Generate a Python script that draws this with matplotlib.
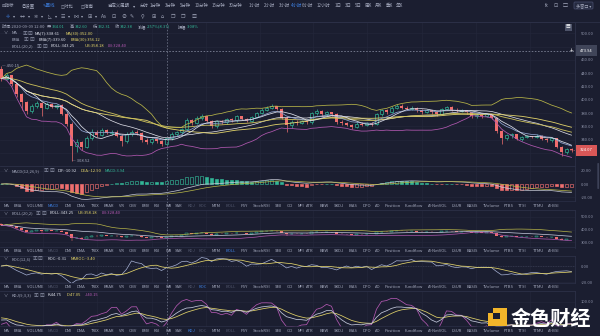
import numpy as np
import pandas as pd
import matplotlib
matplotlib.use("Agg")
import matplotlib.pyplot as plt
from matplotlib.patches import Rectangle, FancyBboxPatch
from matplotlib.ticker import FormatStrFormatter

plt.rcParams['font.family'] = ['Noto Sans CJK SC', 'DejaVu Sans']

# ETH/USDT 4h candles, open of each bar = previous close
first_open = 446.0
closes = [432, 437, 424, 408, 396, 383, 391, 395, 388, 393,
          389, 392, 379, 363, 331, 336, 329, 343, 352, 347,
          354, 350, 352, 346, 338, 348, 352, 350, 339, 336,
          341, 338, 334.01, 342.38, 349, 351, 356, 369, 365, 372,
          375, 368, 360, 368, 366, 371, 369, 375, 371, 368,
          374, 380, 385, 388, 390, 386, 373, 362, 367, 365,
          368, 366, 380, 383, 378, 381, 378, 367, 365, 362,
          359, 364, 362, 365, 363, 378, 384, 381, 388, 391,
          388, 386, 388, 384, 382, 384, 381, 379, 386, 389,
          385, 383, 384, 381, 375, 377, 376, 378, 373, 353,
          343, 347, 348, 341, 344, 345, 344, 346, 341, 339,
          342, 329, 321, 326, 324.07]
highs = [450.15, 440, 438, 426, 410, 398, 394, 398, 397, 396,
         395, 394, 393, 381, 366, 341, 338, 346, 356, 355,
         357, 356, 355, 354, 348, 351, 355, 354, 351, 342,
         343, 343, 340, 342.60, 351, 353, 358, 372, 371, 375,
         378, 376, 369, 370, 369, 373, 372, 377, 376, 372,
         376, 382, 387, 391, 393, 391, 388, 375, 369, 369,
         370, 370, 382, 386, 384, 383, 382, 380, 369, 367,
         364, 366, 366, 367, 367, 380, 386, 386, 390, 394,
         393, 390, 390, 389, 386, 386, 385, 383, 388, 391,
         390, 387, 386, 385, 382, 380, 379, 380, 379, 374,
         355, 349, 350, 349, 346, 347, 346, 348, 347, 343,
         344, 343, 330, 328, 327]
lows = [428, 430, 421, 404, 384, 378, 380, 388, 375, 386,
        387, 386, 377, 360, 308.52, 322, 325, 327, 340, 344,
        345, 348, 347, 344, 330, 335, 346, 347, 336, 333,
        334, 335, 331, 332.31, 340, 346, 348, 355, 362, 363,
        370, 366, 357, 358, 363, 364, 366, 367, 369, 366,
        367, 372, 378, 383, 386, 384, 371, 352, 358, 362,
        363, 364, 364, 377, 376, 376, 376, 364, 362, 360,
        356, 357, 360, 360, 361, 362, 376, 379, 380, 386,
        386, 384, 384, 382, 379, 380, 379, 376, 378, 384,
        383, 381, 381, 379, 372, 372, 373, 374, 371, 350,
        334, 340, 343, 339, 338, 342, 342, 343, 339, 336,
        337, 327, 315, 319, 322]

cross_idx = 33
last_price = 324.07
cross_price = 473.94

info_time = "时间:2020-09-09 12:00"
info_ohlc = [("开:", "334.01"), ("高:", "342.60"), ("低:", "332.31"), ("收:", "342.38")]
info_chg = "2.57%(8.37)"
info_amp = "3.08%"

periods = ["分时", "1分钟", "3分钟", "5分钟", "10分钟", "15分钟", "30分钟", "1小时",
           "2小时", "3小时", "4小时", "6小时", "12小时", "1日", "3日", "5日",
           "周K", "月K", "季K", "年K"]
period_x = [140, 150, 165, 180, 195, 212, 229, 249, 264, 279, 291, 302, 317,
            335, 345, 355, 365, 375, 386, 396]

tabs = ["MA", "EMA", "VOLUME", "MACD", "DMI", "DMA", "TRIX", "BRAR", "VR", "OBV",
        "EMV", "RSI", "WR", "SAR", "KDJ", "ROC", "MTM", "BOLL", "PSY", "StochRSI",
        "SMI", "CCI", "MFI", "ATR", "BBW", "SKDJ", "BIAS", "DPO", "AO", "Position",
        "Fundflow", "AI-NetVOL", "LSUR", "BASIS", "TVolume", "FTBS", "TTSI", "TTMU", "AI-BSI"]
tab_x = [4, 14, 27, 48, 65, 77, 91, 104, 119, 129, 142, 154, 166, 175, 188, 199,
         212, 226, 241, 253, 275, 287, 298, 306, 320, 334, 349, 363, 375, 385,
         405, 428, 452, 467, 483, 504, 518, 533, 548]

BG = '#1b1e30'
GRID = '#23273b'
SEP = '#2c3047'
TXT = '#a3a8bc'
DIM = '#50556b'
BLUE = '#3d7fe0'
GREEN = '#32b596'
RED = '#ef6e6e'
WHITE = '#dcdfea'
STEEL = '#8ea2cf'
YEL = '#e2d36a'
YEL2 = '#cdc15a'
OLIVE = '#b8b548'
MAG = '#b158b0'
FS = 3.0

W, H = 600, 336
N = len(closes)
x = np.arange(N)
c = pd.Series(closes, dtype=float)
hi = pd.Series(highs, dtype=float)
lo = pd.Series(lows, dtype=float)
o = c.shift(1).fillna(first_open)

# indicators
ma7 = c.rolling(7, min_periods=1).mean()
ma30 = c.rolling(30, min_periods=1).mean()
ema7 = c.ewm(span=7, adjust=False).mean()
ema30 = c.ewm(span=30, adjust=False).mean()
mid = c.rolling(20, min_periods=1).mean()
sd = c.rolling(20, min_periods=1).std(ddof=0)
ub = mid + 2 * sd
lb = mid - 2 * sd

dif = c.ewm(span=12, adjust=False).mean() - c.ewm(span=26, adjust=False).mean()
dea = dif.ewm(span=9, adjust=False).mean()
hist = 2 * (dif - dea)

ref = c.shift(12).fillna(c.iloc[0])
roc = (c - ref) / ref * 100
maroc = roc.rolling(6, min_periods=1).mean()

llv = lo.rolling(9, min_periods=1).min()
hhv = hi.rolling(9, min_periods=1).max()
rsv = (c - llv) / (hhv - llv) * 100
k_vals, d_vals = [], []
k_prev, d_prev = 50.0, 50.0
for r in rsv:
    k_prev = (2 * k_prev + r) / 3
    d_prev = (2 * d_prev + k_prev) / 3
    k_vals.append(k_prev)
    d_vals.append(d_prev)
kk = np.array(k_vals)
dd = np.array(d_vals)
jj = 3 * kk - 2 * dd

fig = plt.figure(figsize=(W / 100, H / 100), dpi=100, facecolor=BG)
grid_x = [8.3, 19.1, 30.1, 40.9, 51.7, 62.3, 73.1, 84.1, 94.9, 105.7]


def panel(top, bottom, ylim, ticks):
    ax = fig.add_axes([0, 1 - bottom / H, 575 / W, (bottom - top) / H], facecolor=BG)
    ax.set_xlim(-0.3, 114.7)
    ax.set_ylim(*ylim)
    for s in ('left', 'bottom'):
        ax.spines[s].set_visible(False)
    ax.spines['right'].set_color(SEP)
    ax.spines['top'].set_color(SEP)
    ax.spines['right'].set_linewidth(0.6)
    ax.spines['top'].set_linewidth(0.6)
    ax.yaxis.tick_right()
    ax.set_yticks(ticks)
    ax.yaxis.set_major_formatter(FormatStrFormatter('%.2f'))
    ax.tick_params(axis='y', length=0, pad=4, labelsize=FS, labelcolor='#8d92a8')
    ax.set_xticks(grid_x)
    ax.tick_params(axis='x', length=0, labelbottom=False)
    ax.grid(color=GRID, lw=0.45)
    ax.set_axisbelow(True)
    return ax


def candles(ax, width=0.62, lw=0.5):
    up = (c >= o).values
    dn = ~up
    ax.vlines(x[up], lo[up], hi[up], color=GREEN, lw=lw, zorder=2)
    ax.vlines(x[dn], lo[dn], hi[dn], color=RED, lw=lw, zorder=2)
    body = np.maximum((c - o).abs().values, 0.6)
    ax.bar(x[up], body[up], bottom=o[up], width=width, facecolor=BG,
           edgecolor=GREEN, lw=lw, zorder=3)
    ax.bar(x[dn], body[dn], bottom=np.minimum(o, c)[dn], width=width,
           color=RED, lw=0, zorder=3)


# main price panel
ax = panel(22, 166, (300.5, 517), [500, 480, 460, 440, 420, 400, 380, 360, 340, 320])
candles(ax)
ax.plot(x, ub, color=OLIVE, lw=0.55, zorder=4)
ax.plot(x, lb, color=MAG, lw=0.55, zorder=4)
ax.plot(x, mid, color='#e6e6ee', lw=0.5, zorder=4)
ax.plot(x, ma30, color=YEL, lw=0.6, zorder=4)
ax.plot(x, ema30, color=YEL2, lw=0.6, zorder=4)
ax.plot(x, ema7, color=STEEL, lw=0.55, zorder=4)
ax.plot(x, ma7, color=WHITE, lw=0.55, zorder=4)
ax.axhline(cross_price, color='#9ea4b8', lw=0.45, ls=(0, (2.5, 2.5)), zorder=5)
ax.hlines(last_price, N - 1.4, 114.7, color=RED, lw=0.45, ls=(0, (1.5, 1.5)), zorder=5)
ax.text(0.05, highs[0], '— 450.15', fontsize=FS, color=TXT, va='center', ha='left', zorder=6)
ax.text(14.15, lows[14], '— 308.52', fontsize=FS, color=TXT, va='center', ha='left', zorder=6)
yt = ax.get_yaxis_transform()
ax.text(1.009, cross_price, '473.94', transform=yt, fontsize=FS, color='white', va='center',
        ha='left', clip_on=False, zorder=10,
        bbox=dict(boxstyle='square,pad=0.9', fc='#404559', ec='none'))
ax.text(0.994, cross_price, '+', transform=yt, fontsize=4.5, color='white', va='center',
        ha='center', zorder=10)
ax.text(1.009, last_price, '324.07', transform=yt, fontsize=FS, color='white', va='center',
        ha='left', clip_on=False, zorder=10,
        bbox=dict(boxstyle='square,pad=0.9', fc='#d95757', ec='none'))

# MACD panel
ax2 = panel(166, 201, (-25.2, 26.7), [20, 0, -20])
falling = (hist.diff().fillna(-1) < 0).values
pos = (hist >= 0).values
hv = hist.values
for mask, col, fill in [(pos & falling, GREEN, True), (pos & ~falling, GREEN, False),
                        (~pos & falling, RED, True), (~pos & ~falling, RED, False)]:
    ax2.bar(x[mask], hv[mask], width=0.62, facecolor=col if fill else BG,
            edgecolor=col, lw=0.45, zorder=3)
ax2.plot(x, dif, color='#c9ccd8', lw=0.5, zorder=4)
ax2.plot(x, dea, color='#b9b848', lw=0.5, zorder=4)

# BOLL panel
ax3 = panel(210, 248, (255, 553), [500, 400, 300])
candles(ax3, lw=0.35)
ax3.plot(x, ub, color=OLIVE, lw=0.5, zorder=4)
ax3.plot(x, mid, color='#c8cde0', lw=0.5, zorder=4)
ax3.plot(x, lb, color=MAG, lw=0.5, zorder=4)

# ROC panel
ax4 = panel(256, 283, (-21.25, 12.5), [0, -20])
ax4.axhline(0, color='#3a3f55', lw=0.45, ls=(0, (2, 2)), zorder=2)
ax4.plot(x, roc, color='#a6b1d4', lw=0.5, zorder=4)
ax4.plot(x, maroc, color=YEL, lw=0.55, zorder=4)

# KDJ panel
ax5 = panel(291, 327, (16, 136), [100])
ax5.plot(x, jj, color=MAG, lw=0.55, zorder=4)
ax5.plot(x, dd, color=YEL, lw=0.55, zorder=4)
ax5.plot(x, kk, color='#c3c8dc', lw=0.55, zorder=4)

# overlay for toolbar, legends and watermark (pixel coordinates)
ov = fig.add_axes([0, 0, 1, 1], facecolor='none')
ov.set_xlim(0, W)
ov.set_ylim(H, 0)
ov.axis('off')
renderer = fig.canvas.get_renderer()

# crosshair through every panel
cross_px = 1.5 + 5 * cross_idx
ov.plot([cross_px, cross_px], [22.5, H], color='#858ba0', lw=0.45, ls=(0, (2.5, 2.5)),
        zorder=0.5)


def txt(px, py, s, color=TXT, size=FS, **kw):
    return ov.text(px, py, s, color=color, fontsize=size, va='center', ha='left', **kw)


def seq(px, py, parts, size=FS):
    for s, col in parts:
        t = txt(px, py, s, col, size)
        px += t.get_window_extent(renderer).width
    return px


# toolbar row 1
for s, px, col in [("⊟指标", 2, TXT), ("◎设置", 22, TXT), ("✎画线", 43, BLUE),
                   ("◫对比", 61, TXT), ("◫指南", 81, TXT), ("自定义周期", 107, TXT),
                   ("▾", 133, TXT)]:
    txt(px, 5.5, s, col, 3.2)
for s, px in zip(periods, period_x):
    txt(px, 5.5, s, BLUE if s == "4小时" else TXT, 3.2)
txt(545, 5.5, "fx", TXT, 3.2)
txt(554, 5.5, "⊡", TXT, 3.6)
txt(563, 5.5, "▢", TXT, 3.6)
ov.add_patch(FancyBboxPatch((574, 2), 19, 7, boxstyle='round,pad=0,rounding_size=1',
                            fc='#252a40', ec='#4a5070', lw=0.5))
txt(576, 5.5, "多窗口 ▾", TXT, 3.0)

# toolbar row 2 (drawing tools)
tools = [("✛", 6, BLUE), ("▾", 12.5, TXT), ("↔", 20, TXT), ("▾", 27.5, TXT),
         ("✲", 34, TXT), ("▾", 41, TXT), ("◺", 48, TXT), ("▾", 55, TXT),
         ("☰", 61, TXT), ("▾", 67.5, TXT), ("⋈", 73, TXT), ("▾", 80.5, TXT),
         ("⊞", 87, TXT), ("▾", 94.5, TXT), ("Aa", 101, TXT), ("⊡", 111, TXT),
         ("⊘", 121, TXT), ("✎", 130, TXT), ("⚲", 141, TXT), ("⊞", 151, TXT),
         ("⌂", 161, TXT), ("❐", 171, TXT), ("❐", 181, TXT), ("▥", 191, TXT)]
for s, px, col in tools:
    txt(px, 16.5, s, col, 3.6 if s != "▾" else 3.0)

# price info and overlay legends
txt(1.5, 26.5, info_time, TXT)
for (lab, val), px in zip(info_ohlc, [46.5, 70, 93, 115]):
    seq(px, 26.5, [(lab, TXT), (val, GREEN)])
seq(137.5, 26.5, [("涨幅:", TXT), (info_chg, GREEN)])
seq(177.5, 26.5, [("振幅:", TXT), (info_amp, GREEN)])


def legend_row(py, name, icons_x, parts, start_x, arrow=True):
    if arrow:
        txt(4, py, "∨", TXT, 3.0)
    txt(12, py, name, TXT)
    txt(icons_x, py, "▣", '#8d92a8', 3.4)
    txt(icons_x + 5.5, py, "⊠", '#8d92a8', 3.4)
    for (s, col), px in zip(parts, start_x):
        txt(px, py, s, col)


legend_row(33.3, "MA", 22.5, [("MA(7):338.61", WHITE), ("MA(30):352.00", YEL)], [35, 66])
legend_row(39.6, "EMA", 23.5, [("EMA(7):339.60", WHITE), ("EMA(30):356.12", YEL)], [39, 71],
           arrow=False)
legend_row(46, "BOLL(20,2)", 37, [("BOLL:343.25", WHITE), ("UB:358.18", YEL),
                                  ("LB:328.40", MAG)], [51, 85, 108], arrow=False)
legend_row(171, "MACD(12,26,9)", 44, [("DIF:-10.92", WHITE), ("DEA:-12.90", YEL),
                                      ("MACD:3.94", GREEN)], [58, 80.5, 105])
legend_row(213.5, "BOLL(20,2)", 35.5, [("BOLL:343.25", WHITE), ("UB:358.18", YEL),
                                       ("LB:328.40", MAG)], [50, 78, 101.5])
legend_row(259, "ROC(12,6)", 32.5, [("ROC:-0.31", WHITE), ("MAROC:-3.40", YEL)], [48, 71])
legend_row(295.5, "KDJ(9,3,3)", 33.5, [("K:44.75", WHITE), ("D:47.05", YEL),
                                       ("J:40.15", MAG)], [48, 67, 85])

# indicator tab rows under each sub panel
used = {"MACD", "KDJ", "ROC", "BOLL"}
for py, active in [(206, "MACD"), (251.5, "BOLL"), (287.5, "ROC"), (330.5, "KDJ")]:
    ov.plot([0, 575], [py - 4.8, py - 4.8], color=SEP, lw=0.5)
    for s, px in zip(tabs, tab_x):
        col = BLUE if s == active else (DIM if s in used else TXT)
        txt(px, py, s, col, 3.0)

# top toolbar divider, small tool icon and scroll thumb
ov.plot([0, 600], [22.3, 22.3], color=SEP, lw=0.6)
ov.add_patch(Rectangle((564.5, 23.5), 7, 7, fc='#4d5369', ec='none'))
txt(565.3, 27, "▤", 'white', 3.4)
ov.add_patch(FancyBboxPatch((597.3, 163), 1.8, 26, boxstyle='round,pad=0,rounding_size=0.8',
                            fc='#3c4157', ec='none'))

# watermark
GOLD = '#f2b52a'
for rx, ry, rw, rh in [(493, 308, 7, 5), (500, 308, 6.5, 17.5), (488, 319, 18.5, 6.5),
                       (488, 313, 5, 12.5)]:
    ov.add_patch(Rectangle((rx, ry), rw, rh, fc=GOLD, ec='none', zorder=8))
ov.add_patch(Rectangle((493, 313), 7, 6, fc=BG, ec='none', zorder=8.5))
ov.text(511, 318, "金色财经", color='white', fontsize=14.5, fontweight='bold',
        va='center', ha='left', zorder=9)

fig.savefig("out.png", dpi=100, facecolor=BG)
